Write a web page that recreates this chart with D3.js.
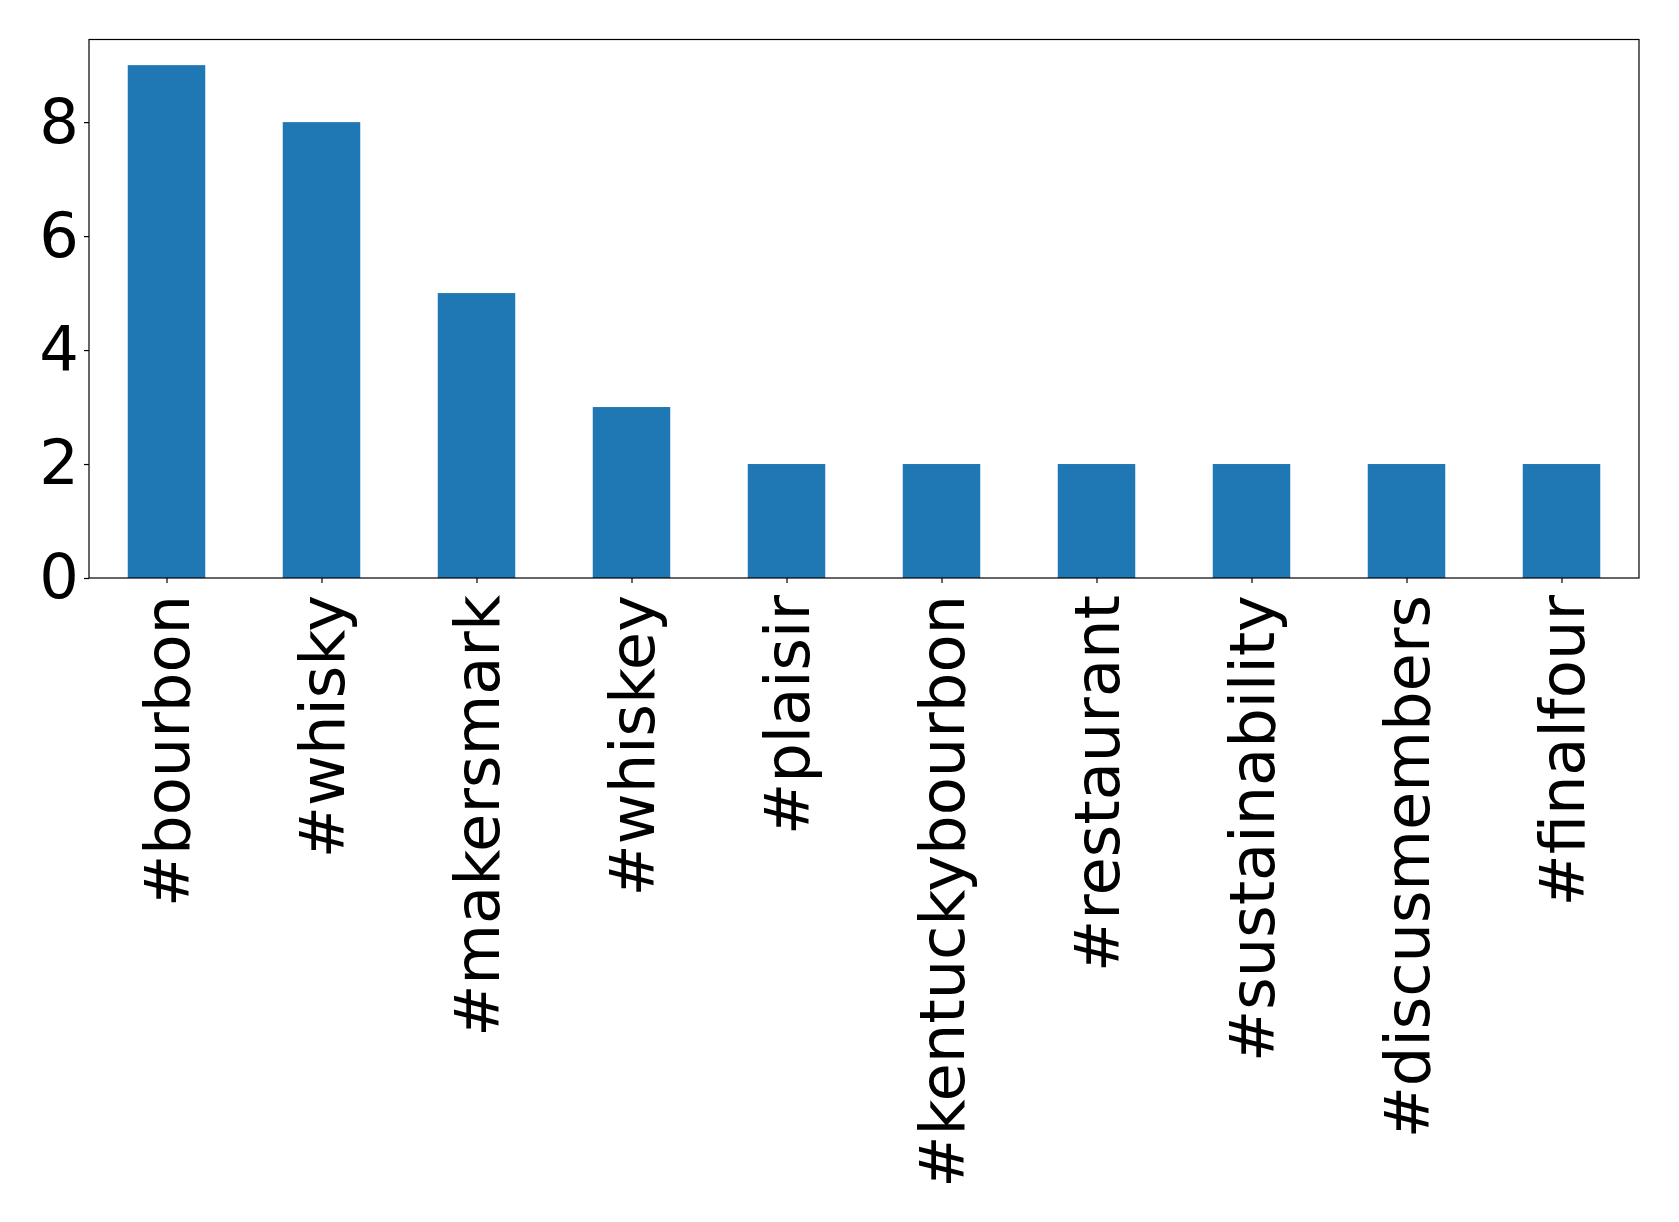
<!DOCTYPE html>
<html><head><meta charset="utf-8">
<script src="https://cdn.jsdelivr.net/npm/d3@7"></script>
<style>body{margin:0;background:#fff}svg{display:block}</style>
</head><body>
<script>
const categories = ["#bourbon","#whisky","#makersmark","#whiskey","#plaisir","#kentuckybourbon","#restaurant","#sustainability","#discusmembers","#finalfour"];
const counts = [9,8,5,3,2,2,2,2,2,2];
const yTicks = [0,2,4,6,8];

const W = 1679, H = 1222;
const m = {left: 89, right: 1639, top: 39.5, bottom: 578};
const svg = d3.select("body").append("svg").attr("width", W).attr("height", H);

const x = d3.scaleLinear().domain([-0.5, categories.length - 0.5]).range([m.left, m.right]);
const y = d3.scaleLinear().domain([0, 9 * 1.05]).range([m.bottom, m.top]);
const bw = x(0.5) - x(0);

svg.append("g").selectAll("rect").data(counts).join("rect")
  .attr("x", (d, i) => x(i) - bw / 2)
  .attr("width", bw)
  .attr("y", d => y(d))
  .attr("height", d => y(0) - y(d))
  .attr("fill", "#1f77b4");

const font = "DejaVu Sans, sans-serif";
const yAxis = d3.axisLeft(y).tickValues(yTicks).tickFormat(d3.format("d")).tickSize(5).tickPadding(5);
const gy = svg.append("g").attr("transform", `translate(${m.left},0)`).call(yAxis);
gy.select(".domain").remove();
gy.selectAll("text").attr("font-family", font).attr("font-size", 62.3).attr("fill", "#000");
gy.selectAll("line").attr("stroke", "#000").attr("stroke-width", 1.2);

const xAxis = d3.axisBottom(x).tickValues(d3.range(categories.length)).tickFormat(i => categories[i]).tickSize(5).tickPadding(0);
const gx = svg.append("g").attr("transform", `translate(0,${m.bottom})`).call(xAxis);
gx.select(".domain").remove();
gx.selectAll("line").attr("stroke", "#000").attr("stroke-width", 1.2);
gx.selectAll("text")
  .attr("font-family", font).attr("font-size", 62.3).attr("fill", "#000")
  .attr("text-anchor", "end")
  .attr("transform", "translate(0,17) rotate(-90)")
  .attr("x", 0).attr("y", 0).attr("dy", "0.35em");

svg.append("rect").attr("x", m.left).attr("y", m.top)
  .attr("width", m.right - m.left).attr("height", m.bottom - m.top)
  .attr("fill", "none").attr("stroke", "#000").attr("stroke-width", 1.2);
</script>
</body></html>
